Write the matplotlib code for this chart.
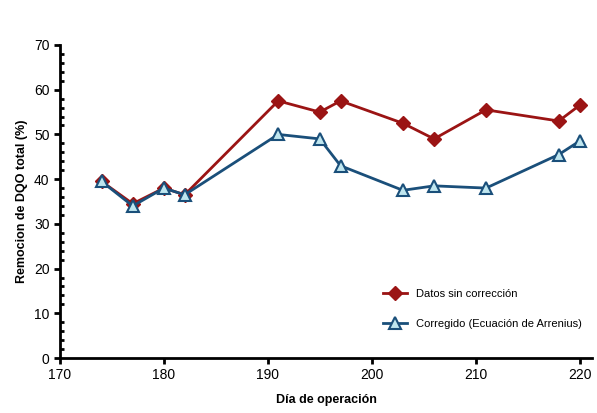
import matplotlib.pyplot as plt
from matplotlib.ticker import MultipleLocator

dias = [174, 177, 180, 182, 191, 195, 197, 203, 206, 211, 218, 220]
sin_corr = [39.5, 34.5, 38, 36.5, 57.5, 55, 57.5, 52.5, 49, 55.5, 53, 56.5]
corregido = [39.5, 34, 38, 36.5, 50, 49, 43, 37.5, 38.5, 38, 45.5, 48.5]

plt.rcParams['font.family'] = ['Liberation Sans', 'DejaVu Sans']
fig = plt.figure(figsize=(5.97, 4.13), dpi=100)
ax = fig.add_axes([60/597, 55/413, 532/597, 313/413])

ax.plot(dias, sin_corr, color='#9b1414', lw=2, marker='D', ms=7,
        label='Datos sin corrección')
ax.plot(dias, corregido, color='#1a4f7a', lw=2, marker='^', ms=9,
        mfc='#bfe6ef', mec='#1a4f7a', mew=1.5,
        label='Corregido (Ecuación de Arrenius)')

ax.set_xlim(170, 221.2)
ax.set_ylim(0, 70)
ax.set_xticks(range(170, 221, 10))
ax.yaxis.set_major_locator(MultipleLocator(10))
ax.yaxis.set_minor_locator(MultipleLocator(2))
ax.tick_params(axis='y', which='major', direction='out', length=4, width=2, labelsize=10)
ax.tick_params(axis='y', which='minor', direction='in', length=3, width=2)
ax.tick_params(axis='x', direction='out', length=4, width=2, labelsize=10)
for s in ['top', 'right']:
    ax.spines[s].set_visible(False)
for s in ['left', 'bottom']:
    ax.spines[s].set_linewidth(2)

ax.set_xlabel('Día de operación', fontsize=9, fontweight='bold', labelpad=8)
ax.set_ylabel('Remocion de DQO total (%)', fontsize=9, fontweight='bold')
ax.legend(loc='lower right', bbox_to_anchor=(1.0, 0.06), frameon=False,
          fontsize=8, labelspacing=1.8, handlelength=2.2)

fig.savefig('out.png')
